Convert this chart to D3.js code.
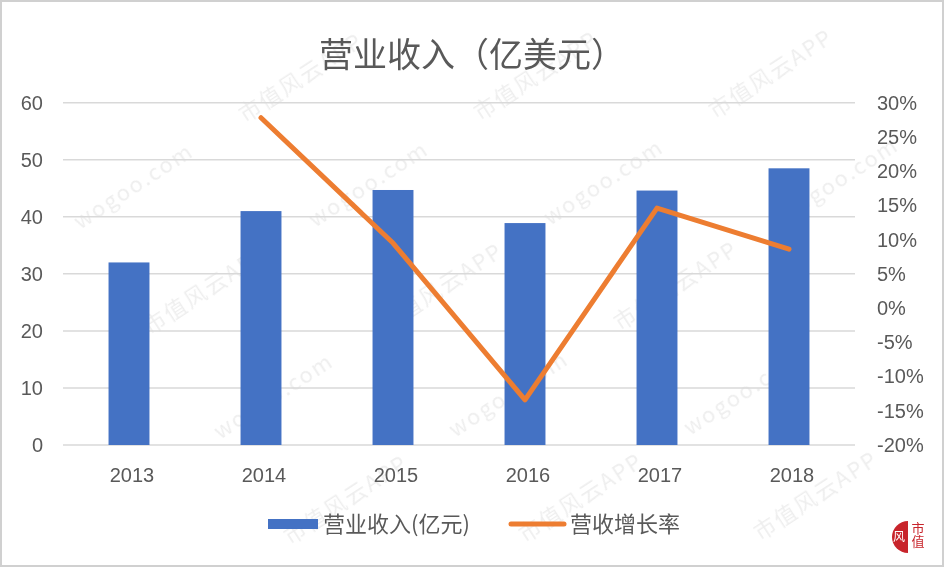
<!DOCTYPE html>
<html>
<head>
<meta charset="utf-8">
<script src="https://cdn.jsdelivr.net/npm/d3@7"></script>
<style>
    body { margin: 0; background: #fff; }
    svg { display: block; }
    .tick text { font-family: "Liberation Sans", "Noto Sans", sans-serif; fill: #595959; }
</style>
</head>
<body>
<div id="chart"></div>
<script>
// chart data
const years = ['2013', '2014', '2015', '2016', '2017', '2018'];
const revenue = [32.0, 41.0, 44.7, 38.9, 44.6, 48.5];
const growthYears = ['2014', '2015', '2016', '2017', '2018'];
const growth = [0.278, 0.095, -0.134, 0.146, 0.086];
const leftTicks = [0, 10, 20, 30, 40, 50, 60];
const rightTicks = [-0.2, -0.15, -0.1, -0.05, 0, 0.05, 0.1, 0.15, 0.2, 0.25, 0.3];
const watermarks = ['wogoo.com', '市值风云APP'];

const width = 945;
const height = 568;
const cjk = '"Noto Sans CJK SC", sans-serif';

const svg = d3.select('#chart')
    .append('svg')
    .attr('width', width)
    .attr('height', height);

svg.append('rect')
    .attr('x', 1).attr('y', 1)
    .attr('width', width - 3).attr('height', height - 3)
    .attr('fill', '#fff')
    .attr('stroke', '#d0d0d0')
    .attr('stroke-width', 2);

// watermark (drawn under the chart, kept inside the frame)
const wm = svg.append('g')
    .attr('font-family', cjk)
    .attr('font-size', 22)
    .attr('letter-spacing', 2)
    .attr('fill', '#000')
    .attr('opacity', 0.07);
const ang = -33 * Math.PI / 180;
for (let r = -3; r < 9; r++) {
    for (let c = 0; c < 8; c++) {
        const label = watermarks[(r + c + 20) % 2];
        const len = label === 'wogoo.com' ? 115 : 140;
        const px = -60 + c * 165 + r * 70;
        const py = 20 + r * 105 - c * 107;
        const ex = px + len * Math.cos(ang);
        const ey = py + len * Math.sin(ang);
        if (px < 20 || ex > 930 || ey < 30 || py > 555) continue;
        wm.append('text')
            .attr('transform', `translate(${px},${py}) rotate(-33)`)
            .text(label);
    }
}

// scales
const x = d3.scaleBand().domain(years).range([63, 855]);
const y = d3.scaleLinear().domain([0, 60]).range([445, 102.7]);
const y2 = d3.scaleLinear().domain([-0.2, 0.3]).range([445, 102.7]);

// gridlines
svg.append('g')
    .selectAll('line')
    .data(leftTicks)
    .join('line')
    .attr('x1', 63).attr('x2', 855)
    .attr('y1', d => y(d)).attr('y2', d => y(d))
    .attr('stroke', '#d9d9d9')
    .attr('stroke-width', 1.5);

// axes
const yAxis = svg.append('g')
    .attr('transform', 'translate(63,0)')
    .call(d3.axisLeft(y).tickValues(leftTicks).tickSize(0).tickPadding(20));
yAxis.select('.domain').remove();
yAxis.selectAll('text').attr('font-size', 20);

const pct = d3.format('.0%');
const yAxis2 = svg.append('g')
    .attr('transform', 'translate(855,0)')
    .call(d3.axisRight(y2).tickValues(rightTicks).tickSize(0).tickPadding(22)
        .tickFormat(d => pct(d).replace('\u2212', '-')));
yAxis2.select('.domain').remove();
yAxis2.selectAll('text').attr('font-size', 20);

const xAxis = svg.append('g')
    .attr('transform', 'translate(0,445)')
    .call(d3.axisBottom(x).tickSize(0).tickPadding(23));
xAxis.select('.domain').remove();
xAxis.selectAll('text').attr('font-size', 20).attr('dx', 3);

// bars
const barW = x.bandwidth() * 0.31;
svg.append('g')
    .selectAll('rect')
    .data(years)
    .join('rect')
    .attr('x', (d) => x(d) + x.bandwidth() / 2 - barW / 2)
    .attr('y', (d, i) => y(revenue[i]))
    .attr('width', barW)
    .attr('height', (d, i) => y(0) - y(revenue[i]))
    .attr('fill', '#4472C4');

// growth line
const line = d3.line()
    .x((d, i) => x(growthYears[i]) + x.bandwidth() / 2)
    .y(d => y2(d));

svg.append('path')
    .datum(growth)
    .attr('d', line)
    .attr('fill', 'none')
    .attr('stroke', '#ED7D31')
    .attr('stroke-width', 5)
    .attr('stroke-linecap', 'round')
    .attr('stroke-linejoin', 'round');

// title
svg.append('text')
    .attr('x', 472)
    .attr('y', 67)
    .attr('text-anchor', 'middle')
    .attr('font-family', cjk)
    .attr('font-size', 34)
    .attr('fill', '#595959')
    .text('营业收入（亿美元）');

// legend
const legend = svg.append('g').attr('font-family', cjk).attr('font-size', 22).attr('fill', '#595959');
legend.append('rect')
    .attr('x', 268).attr('y', 519).attr('width', 50).attr('height', 10)
    .attr('fill', '#4472C4');
legend.append('text').attr('x', 323).attr('y', 532).text('营业收入(亿元)');
legend.append('line')
    .attr('x1', 511).attr('x2', 564).attr('y1', 524).attr('y2', 524)
    .attr('stroke', '#ED7D31').attr('stroke-width', 5).attr('stroke-linecap', 'round');
legend.append('text').attr('x', 570).attr('y', 532).text('营收增长率');

// logo
const logo = svg.append('g');
logo.append('path')
    .attr('d', d3.arc()({ innerRadius: 0, outerRadius: 16, startAngle: Math.PI, endAngle: 2 * Math.PI }))
    .attr('transform', 'translate(908,537)')
    .attr('fill', '#c8242b');
logo.append('text')
    .attr('x', 899).attr('y', 541)
    .attr('text-anchor', 'middle')
    .attr('font-family', cjk).attr('font-size', 12).attr('fill', '#fff')
    .text('风');
logo.append('text')
    .attr('x', 918).attr('y', 522)
    .attr('writing-mode', 'tb')
    .attr('font-family', cjk).attr('font-size', 13).attr('fill', '#c8242b')
    .text('市值');
</script>
</body>
</html>
